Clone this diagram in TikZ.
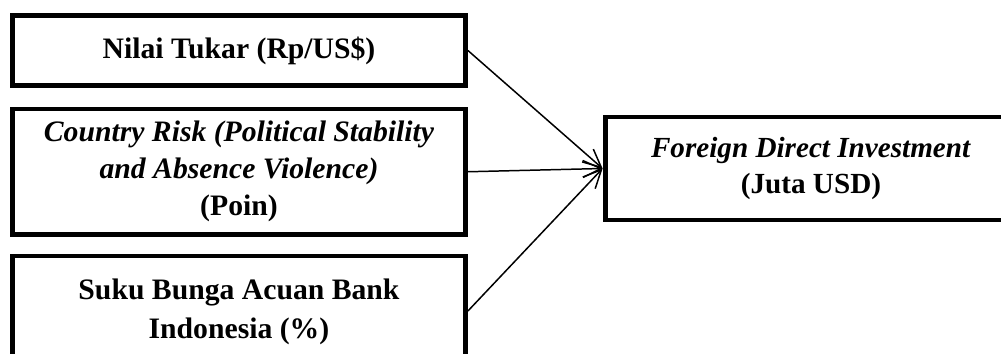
\documentclass[tikz,border=0pt]{standalone}
\usepackage{fontspec}
\setmainfont{Liberation Serif}[BoldFont={Liberation Serif Bold},
  ItalicFont={Liberation Serif Italic}, BoldItalicFont={Liberation Serif Bold Italic}]
\usetikzlibrary{arrows.meta}

\tikzset{
 varbox/.style={draw, line width=2.8pt, align=center, inner sep=0pt,
   font=\fontsize{16.9}{21}\selectfont\bfseries},
 link/.style={line width=0.85pt, -{Straight Barb[length=0.36cm, width=0.34cm, line width=0.85pt]}}
}

\begin{document}
\begin{tikzpicture}[x=0.02cm, y=-0.02cm]

 \useasboundingbox (0,0) rectangle (1001,354);

% Independent variables
 \node[varbox, minimum width=9.06cm, minimum height=1.40cm] (kurs) at (239,50.5) {Nilai Tukar (Rp/US\$)};
 \node[varbox, minimum width=9.06cm, minimum height=2.51cm] (risk) at (239,171.75)
   {\textit{Country Risk (Political Stability}\\ \textit{and Absence Violence)}\\ (Poin)};
 \node[varbox, minimum width=9.06cm, minimum height=2.2cm,
   font=\fontsize{16.9}{22.7}\selectfont\bfseries] (bunga) at (239,311)
   {\raisebox{0.12cm}{\begin{tabular}{@{}c@{}}Suku Bunga Acuan Bank\\ Indonesia (\%)\end{tabular}}};

% Dependent variable
 \node[varbox, minimum width=8.24cm, minimum height=2.06cm,
   font=\fontsize{16.6}{21}\selectfont\bfseries] (fdi) at (811,168.5)
   {\textit{Foreign Direct Investment}\\ (Juta USD)};

 \draw[link] (kurs.east) -- (fdi.west);
 \draw[link] (risk.east) -- (fdi.west);
 \draw[link] (bunga.east) -- (fdi.west);

\end{tikzpicture}
\end{document}
